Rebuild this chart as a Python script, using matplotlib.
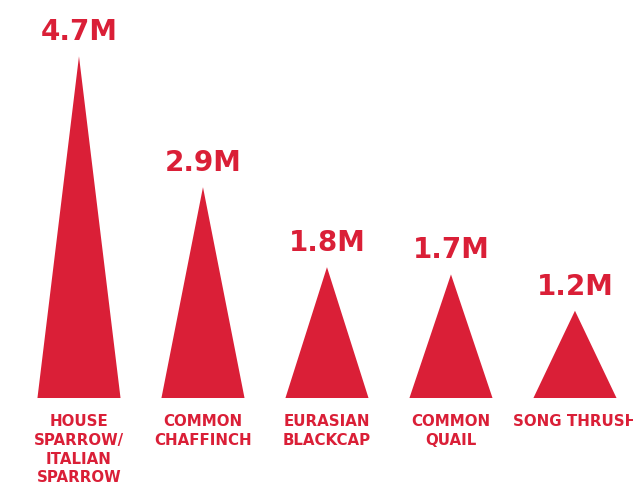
import matplotlib.pyplot as plt
from matplotlib.patches import Polygon

# Breeding population estimates (millions)
species = ["HOUSE\nSPARROW/\nITALIAN\nSPARROW", "COMMON\nCHAFFINCH", "EURASIAN\nBLACKCAP",
           "COMMON\nQUAIL", "SONG THRUSH"]
values = [4.7, 2.9, 1.8, 1.7, 1.2]
value_labels = ["4.7M", "2.9M", "1.8M", "1.7M", "1.2M"]

red = "#DA1F37"
font = "DejaVu Sans"

fig = plt.figure(figsize=(6.33, 4.84), dpi=100)
ax = fig.add_axes([0, 0, 1, 1])
ax.set_xlim(-0.637, 4.468)
ax.set_ylim(-1.183, 5.475)
ax.axis("off")

half = 0.335
for i, (name, v, lab) in enumerate(zip(species, values, value_labels)):
    tri = Polygon([(i - half, 0), (i, v), (i + half, 0)], closed=True,
                  facecolor=red, edgecolor="none")
    ax.add_patch(tri)
    ax.annotate(lab, (i, v), xytext=(0, 11.5), textcoords="offset points",
                ha="center", va="baseline", color=red, fontsize=20,
                fontweight="bold", family=font)
    ax.annotate(name, (i, 0), xytext=(0, -11.5), textcoords="offset points",
                ha="center", va="top", color=red, fontsize=10.8,
                fontweight="bold", family=font, linespacing=1.32)

fig.savefig("out.png", dpi=100)
